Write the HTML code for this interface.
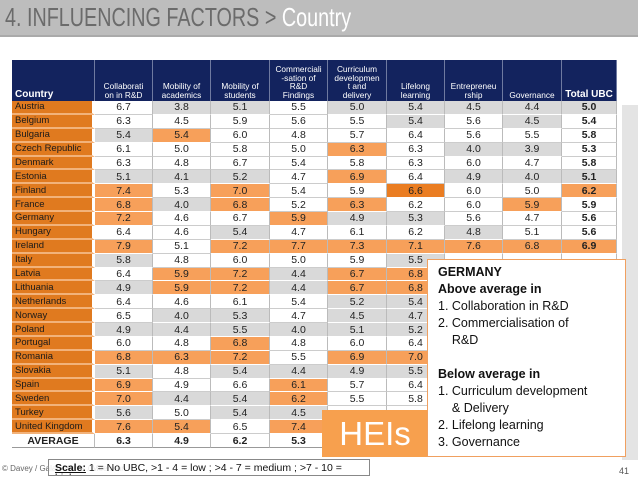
<!DOCTYPE html>
<html><head><meta charset="utf-8"><style>
body{margin:0;width:638px;height:479px;position:relative;overflow:hidden;background:#fff;font-family:"Liberation Sans",sans-serif}
.a{position:absolute;box-sizing:border-box}
.c{display:flex;align-items:center;justify-content:center;font-size:10.5px;color:#222;border-right:1px solid #bbb;border-bottom:1px solid #fff}
.w{background:#fff;border-bottom:1px solid #ccc}
.g{background:#d9d9d9}
.o{background:#f7a05a}
.d{background:#ea7d22}
.h{background:#13235e;color:#fff;font-size:8.3px;line-height:8.5px;display:flex;align-items:flex-end;justify-content:center;text-align:center;padding-bottom:2px;border-right:1px solid #6f7aa0}
.n{background:#e07a1f;color:#1a1a1a;font-size:9.5px;display:flex;align-items:center;padding-left:3px;border-bottom:2px solid #f2b27a;border-right:3px solid #fff}
</style></head><body>
<div class="a" style="left:0;top:0;width:638px;height:37px;background:#bdbdbd;border-bottom:2px solid #aaa"></div>
<div class="a" style="left:5px;top:2px;font-size:26px;color:#6b6b6b;white-space:nowrap;transform:scaleX(0.76);transform-origin:0 0">4. INFLUENCING FACTORS &gt; <span style="color:#fff">Country</span></div>
<div class="a" style="left:622px;top:105px;width:16px;height:355px;background:#e4e4e4"></div>
<div id="tbl"></div>
<div class="a" style="left:322px;top:410px;width:106px;height:47px;background:#f7a04e;color:#fff;font-size:33px;display:flex;align-items:center;justify-content:center">HEIs</div>
<div class="a" style="left:427px;top:259px;width:199px;height:198px;background:#fff;border:1px solid #f0a060;padding:4px 0 0 10px;font-size:12.5px;line-height:17px;color:#111">
<b>GERMANY</b><br><b>Above average in</b><br>1. Collaboration in R&amp;D<br>2. Commercialisation of<br>&nbsp;&nbsp;&nbsp;&nbsp;R&amp;D<br><br><b>Below average in</b><br>1. Curriculum development<br>&nbsp;&nbsp;&nbsp;&nbsp;&amp; Delivery<br>2. Lifelong learning<br>3. Governance</div>
<div class="a" style="left:2px;top:464px;font-size:8px;color:#666">© Davey / Galan Muros / Meerman</div>
<div class="a" style="left:48px;top:459px;width:322px;height:17px;border:1px solid #888;background:rgba(255,255,255,0.85);font-size:10.5px;padding:3px 0 0 6px;overflow:hidden;line-height:10px;color:#111"><b><u>Scale:</u></b> 1 = No UBC, &gt;1 - 4 = low ; &gt;4 - 7 = medium ; &gt;7 - 10 =<br>high</div>
<div class="a" style="left:619px;top:466px;font-size:9px;color:#555">41</div>
<script>
const headers=["Country","Collaborati\non in R&D","Mobility of\nacademics","Mobility of\nstudents","Commerciali\n-sation of\nR&D\nFindings","Curriculum\ndevelopmen\nt and\ndelivery","Lifelong\nlearning","Entrepreneu\nrship","Governance","Total UBC"];
const countries=["Austria","Belgium","Bulgaria","Czech Republic","Denmark","Estonia","Finland","France","Germany","Hungary","Ireland","Italy","Latvia","Lithuania","Netherlands","Norway","Poland","Portugal","Romania","Slovakia","Spain","Sweden","Turkey","United Kingdom"];
const values=[
["6.7w","3.8g","5.1g","5.5w","5.0g","5.4g","4.5g","4.4g","5.0g"],
["6.3w","4.5w","5.9w","5.6w","5.5w","5.4g","5.6w","4.5g","5.4w"],
["5.4g","5.4o","6.0w","4.8w","5.7w","6.4w","5.6w","5.5w","5.8w"],
["6.1w","5.0w","5.8w","5.0w","6.3o","6.3w","4.0g","3.9g","5.3w"],
["6.3w","4.8w","6.7w","5.4w","5.8w","6.3w","6.0w","4.7w","5.8w"],
["5.1g","4.1g","5.2g","4.7w","6.9o","6.4w","4.9g","4.0g","5.1g"],
["7.4o","5.3w","7.0o","5.4w","5.9w","6.6d","6.0w","5.0w","6.2o"],
["6.8o","4.0g","6.8o","5.2w","6.3o","6.2w","6.0w","5.9o","5.9w"],
["7.2o","4.6w","6.7w","5.9o","4.9g","5.3g","5.6w","4.7w","5.6w"],
["6.4w","4.6w","5.4g","4.7w","6.1w","6.2w","4.8g","5.1w","5.6w"],
["7.9o","5.1w","7.2o","7.7o","7.3o","7.1o","7.6o","6.8o","6.9o"],
["5.8g","4.8w","6.0w","5.0w","5.9w","5.5g","w","w","w"],
["6.4w","5.9o","7.2o","4.4g","6.7o","6.8o","w","w","w"],
["4.9g","5.9o","7.2o","4.4g","6.7o","6.8o","w","w","w"],
["6.4w","4.6w","6.1w","5.4w","5.2g","5.4g","w","w","w"],
["6.5w","4.0g","5.3g","4.7w","4.5g","4.7g","w","w","w"],
["4.9g","4.4g","5.5g","4.0g","5.1g","5.2g","w","w","w"],
["6.0w","4.8w","6.8o","4.8w","6.0w","6.4w","w","w","w"],
["6.8o","6.3o","7.2o","5.5w","6.9o","7.0o","w","w","w"],
["5.1g","4.8w","5.4g","4.4g","4.9g","5.5g","w","w","w"],
["6.9o","4.9w","6.6w","6.1o","5.7w","6.4w","w","w","w"],
["7.0o","4.4g","5.4g","6.2o","5.5w","5.8w","w","w","w"],
["5.6g","5.0w","5.4g","4.5g","w","w","w","w","w"],
["7.6o","5.4o","6.5w","7.4o","w","w","w","w","w"]];
const averages=["6.3","4.9","6.2","5.3","","","","",""];
const colX=[12,95,153,211,270,328,387,445,503,562,617];
const top0=101,rowH=13.88,hTop=60;
const T=document.getElementById('tbl');
function mk(cls,x,y,w,h,txt){const e=document.createElement('div');e.className='a '+cls;e.style.left=x+'px';e.style.top=y+'px';e.style.width=w+'px';e.style.height=h+'px';e.textContent=txt;T.appendChild(e);return e;}
headers.forEach((t,i)=>{const e=mk('h',colX[i],hTop,colX[i+1]-colX[i],top0-hTop,t);
e.style.whiteSpace='pre';


if(i==0){e.style.justifyContent='flex-start';e.style.paddingLeft='3px';e.style.fontSize='10px';e.style.fontWeight='bold';}
if(i==9){e.style.fontSize='10px';e.style.fontWeight='bold';}});
countries.forEach((c,r)=>{const y=top0+r*rowH;
const e=mk('n',colX[0],y,colX[1]-colX[0],rowH,c);


values[r].forEach((v,k)=>{const cl=v.slice(-1),tx=v.slice(0,-1);
const f=mk('c '+cl,colX[k+1],y,colX[k+2]-colX[k+1],rowH,tx);


if(k==8)f.style.fontWeight='bold';});});
const ya=top0+countries.length*rowH;
const av=mk('c',colX[0],ya,colX[1]-colX[0],rowH,'AVERAGE');


av.style.fontWeight='bold';av.style.borderBottom='1px solid #999';
averages.forEach((v,k)=>{const f=mk('c',colX[k+1],ya,colX[k+2]-colX[k+1],rowH,v);


f.style.fontWeight='bold';f.style.borderBottom='1px solid #999';});
</script>
</body></html>
